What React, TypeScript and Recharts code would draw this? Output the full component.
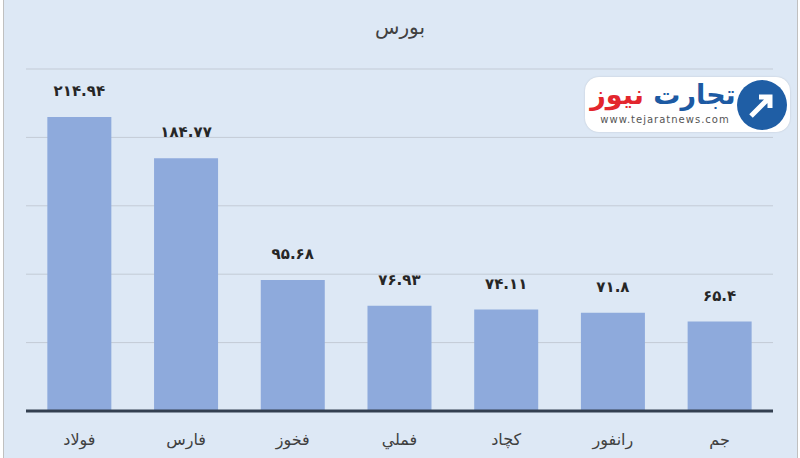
import React from 'react';
import { BarChart, Bar, XAxis, YAxis, CartesianGrid, LabelList } from 'recharts';

const categories = ['فولاد', 'فارس', 'فخوز', 'فملي', 'کچاد', 'رانفور', 'جم'];
const values = [214.94, 184.77, 95.68, 76.93, 74.11, 71.8, 65.4];
const labels = ['۲۱۴.۹۴', '۱۸۴.۷۷', '۹۵.۶۸', '۷۶.۹۳', '۷۴.۱۱', '۷۱.۸', '۶۵.۴'];
const yTicks = [0, 50, 100, 150, 200, 250];

const data = categories.map((name, i) => ({ name, value: values[i], label: labels[i] }));

const FONT = '"DejaVu Sans", "Noto Sans", sans-serif';

const CatTick = (props: any) => {
  const { x, y, payload } = props;
  return (
    <text x={x} y={y + 20} textAnchor="middle" dominantBaseline="central" fontSize={16} fill="#404040" fontFamily={FONT}>
      {payload.value}
    </text>
  );
};

const TopLabel = (props: any) => {
  const { x, y, width, index } = props;
  return (
    <text x={x + width / 2} y={y - 26} textAnchor="middle" dominantBaseline="central" fontSize={15} fontWeight="bold" fill="#262626" fontFamily={FONT}>
      {labels[index]}
    </text>
  );
};

const Logo = () => (
  <div
    style={{
      position: 'absolute', left: 585, top: 77, width: 205, height: 55,
      background: '#fff', borderRadius: 14, boxShadow: '0 0 2px rgba(0,0,0,0.15)',
    }}
  >
    <div style={{ position: 'absolute', left: 4, top: 0, width: 148, textAlign: 'center', direction: 'rtl', fontFamily: FONT, fontWeight: 'bold', fontSize: 27, lineHeight: '36px', whiteSpace: 'nowrap' }}>
      <span style={{ color: '#1d5aa3' }}>تجارت</span>{' '}
      <span style={{ color: '#e3262d' }}>نیوز</span>
    </div>
    <div style={{ position: 'absolute', left: 10, top: 37, width: 140, textAlign: 'center', fontFamily: FONT, fontSize: 10, color: '#555', letterSpacing: 1 }}>
      www.tejaratnews.com
    </div>
    <div style={{ position: 'absolute', left: 152, top: 3, width: 50, height: 50, borderRadius: 25, background: '#1f5ea5' }}>
      <svg width={50} height={50}>
        <path d="M14 36 L32 18 M22 17 L33 17 L33 28" stroke="#fff" strokeWidth={5} fill="none" />
      </svg>
    </div>
  </div>
);

export default function App() {
  return (
    <div style={{ position: 'absolute', left: 0, top: 0, width: 800, height: 458, background: '#fff' }}>
      <div
        style={{
          position: 'absolute', left: 3, top: 0, width: 793, height: 458,
          background: '#dde8f5', borderLeft: '1px solid #c0c0c0', borderRight: '1px solid #c0c0c0',
        }}
      />
      <div style={{ position: 'absolute', left: 0, top: 15, width: 800, textAlign: 'center', fontFamily: FONT, fontSize: 20, color: '#404040' }}>
        بورس
      </div>
      <div style={{ position: 'absolute', left: 0, top: 0 }}>
        <BarChart width={800} height={458} data={data} margin={{ top: 69, right: 27, bottom: 7, left: 26 }} barCategoryGap="20%">
          <CartesianGrid vertical={false} stroke="#c3cbd6" />
          <YAxis hide domain={[0, 250]} ticks={yTicks} />
          <XAxis dataKey="name" height={40} tickLine={false} axisLine={{ stroke: '#333f50', strokeWidth: 3 }} tick={<CatTick />} interval={0} />
          <Bar dataKey="value" fill="#8eaadc" isAnimationActive={false}>
            <LabelList dataKey="label" content={<TopLabel />} />
          </Bar>
        </BarChart>
      </div>
      <Logo />
    </div>
  );
}
